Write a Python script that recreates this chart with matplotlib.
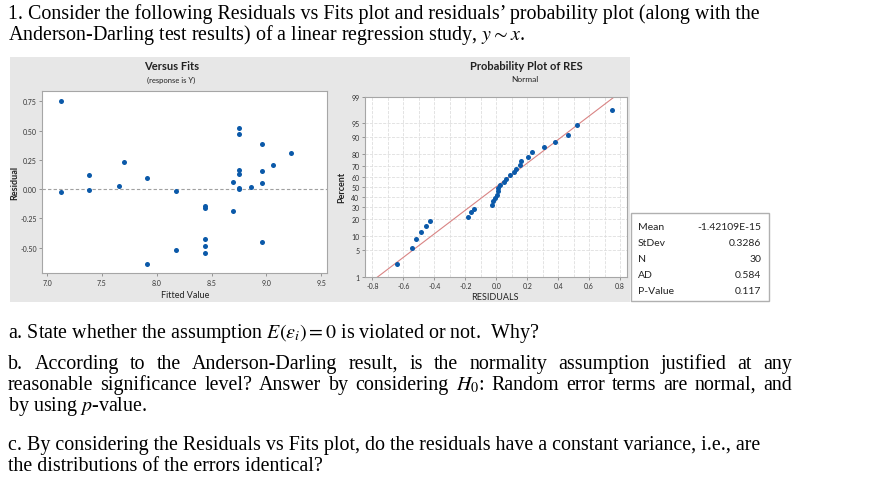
import matplotlib
matplotlib.use('Agg')
import matplotlib.pyplot as plt  # for plotting
import matplotlib.patches as pch  # for the grey panel and the stats box
import numpy as np
from statistics import NormalDist

# residuals vs fits
fits = [7.128, 7.128, 7.387, 7.387, 7.654, 7.703, 7.916, 7.916, 8.175, 8.175,
        8.44, 8.44, 8.44, 8.44, 8.44, 8.699, 8.699, 8.747, 8.747, 8.747,
        8.747, 8.747, 8.747, 8.857, 8.96, 8.96, 8.96, 8.96, 9.06, 9.22]
resid = [0.75, -0.026, 0.116, -0.006, 0.023, 0.233, 0.091, -0.639, -0.02, -0.517,
         -0.145, -0.162, -0.429, -0.483, -0.543, 0.063, -0.185, 0.52, 0.466, 0.159,
         0.128, 0.009, 0.004, 0.014, 0.381, 0.151, 0.051, -0.455, 0.205, 0.31]

# Anderson-Darling output
stat_names = ['Mean', 'StDev', 'N', 'AD', 'P-Value']
stat_values = ['-1.42109E-15', '0.3286', '30', '0.584', '0.117']
res_mean = -1.42109e-15
res_sd = 0.3286

fit_ticks = [7.0, 7.5, 8.0, 8.5, 9.0, 9.5]
res_ticks = [-0.50, -0.25, 0.00, 0.25, 0.50, 0.75]
pct_ticks = [1, 5, 10, 20, 30, 40, 50, 60, 70, 80, 90, 95, 99]
prob_xticks = [-0.8, -0.6, -0.4, -0.2, 0.0, 0.2, 0.4, 0.6, 0.8]

W, H = 896, 485
SANS = 'Lato'
SERIF = 'Liberation Serif'
plt.rcParams['mathtext.fontset'] = 'stix'


def box(x0, y0, x1, y1):
    # pixel box (top-left origin) -> figure fraction rect
    return [x0 / W, 1 - y1 / H, (x1 - x0) / W, (y1 - y0) / H]


def ftext(x, y, s, **kw):
    return fig.text(x / W, 1 - y / H, s, **kw)


fig = plt.figure(figsize=(W / 100, H / 100), dpi=100)

# grey minitab panel behind both plots
fig.patches.append(pch.Rectangle((10 / W, 1 - 303 / H), 620 / W, 245 / H,
                                 transform=fig.transFigure, facecolor='#e7e7e7',
                                 edgecolor='none', zorder=-1))

dot = '#0b59a9'
frame = '#a6a6a6'

# ---- Versus Fits
ax1 = fig.add_axes(box(42.3, 92.3, 326.7, 274.3))
ax1.scatter(fits, resid, s=13, color=dot, linewidths=0, zorder=3)
ax1.axhline(0, color='#a0a0a0', ls='--', lw=0.8, dashes=(3, 2))
ax1.set_xlim(6.957, 9.55)
ax1.set_ylim(-0.72, 0.835)
ax1.set_xticks(fit_ticks)
ax1.set_xticklabels(['%.1f' % v for v in fit_ticks])
ax1.set_yticks(res_ticks)
ax1.set_yticklabels(['%.2f' % v for v in res_ticks])

# ---- Probability plot
inv = NormalDist().inv_cdf
srt = np.sort(resid)
n = len(srt)
pp = [(i - 0.3) / (n + 0.4) for i in range(1, n + 1)]
zq = [inv(p) for p in pp]

ax2 = fig.add_axes(box(365, 97.7, 626.7, 277.7))
ax2.set_xlim(-0.848, 0.843)
ax2.set_ylim(inv(0.01), inv(0.99))
xs = np.array([-0.9, 0.9])
ax2.plot(xs, (xs - res_mean) / res_sd, color='#d98484', lw=0.8, zorder=2)
ax2.scatter(srt, zq, s=13, color=dot, linewidths=0, zorder=3)
ax2.set_xticks(prob_xticks)
ax2.set_xticklabels(['%.1f' % v for v in prob_xticks])
ax2.set_xticks(np.arange(-0.8, 0.81, 0.1), minor=True)
ax2.set_yticks([inv(p / 100) for p in pct_ticks])
ax2.set_yticklabels([str(p) for p in pct_ticks])
ax2.grid(True, which='both', axis='x', ls='--', color='#dedede', lw=0.6)
ax2.grid(True, which='major', axis='y', ls='--', color='#dedede', lw=0.6)
ax2.tick_params(which='minor', length=0)
ax2.set_axisbelow(True)

for ax in (ax1, ax2):
    for sp in ax.spines.values():
        sp.set_color(frame)
        sp.set_linewidth(0.8)
    ax.tick_params(which='major', labelsize=5, length=2, width=0.6, color='#888888',
                   labelcolor='#333333', pad=2)
    for lab in ax.get_xticklabels() + ax.get_yticklabels():
        lab.set_family(SANS)

# titles and axis labels
ftext(172, 67, 'Versus Fits', family=SANS, size=8, weight='bold', color='#222222',
      ha='center', va='center')
ftext(171, 80, '(response is Y)', family=SANS, size=5.5, color='#222222',
      ha='center', va='center')
ftext(526, 67, 'Probability Plot of RES', family=SANS, size=8, weight='bold',
      color='#222222', ha='center', va='center')
ftext(525, 79, 'Normal', family=SANS, size=6, color='#222222', ha='center', va='center')
ftext(185, 296, 'Fitted Value', family=SANS, size=6.5, color='#222222',
      ha='center', va='center')
ftext(15, 183, 'Residual', family=SANS, size=6.5, weight='bold', color='#222222',
      ha='center', va='center', rotation=90)
ftext(342, 187, 'Percent', family=SANS, size=6.5, weight='bold', color='#222222',
      ha='center', va='center', rotation=90)
ftext(495, 298, 'RESIDUALS', family=SANS, size=6.5, color='#222222',
      ha='center', va='center')

# stats box
fig.patches.append(pch.Rectangle((631 / W, 1 - 302 / H), 138 / W, 88 / H,
                                 transform=fig.transFigure, facecolor='white',
                                 edgecolor='#b0b0b0', lw=1, zorder=1))
for k, (name, val) in enumerate(zip(stat_names, stat_values)):
    yy = 227 + k * 16.2
    ftext(638, yy, name, family=SANS, size=7.5, color='#222222', va='center')
    ftext(761, yy, val, family=SANS, size=7.5, color='#222222', va='center', ha='right')

# question text
qkw = dict(family=SERIF, size=14.4, color='black', va='baseline')


def justify(words, y, x0, x1):
    r = fig.canvas.get_renderer()
    ts = [ftext(0, y, w, **qkw) for w in words]
    ws = [t.get_window_extent(r).width for t in ts]
    gap = (x1 - x0 - sum(ws)) / (len(words) - 1)
    x = x0
    for t, w in zip(ts, ws):
        t.set_x(x / W)
        x += w + gap


ftext(8, 19, '1. Consider the following Residuals vs Fits plot and residuals\u2019 '
      'probability plot (along with the', **qkw)
ftext(8, 40, 'Anderson-Darling test results) of a linear regression study, $y \\sim x$.',
      **qkw)
ftext(8, 338, 'a. State whether the assumption $E(\\varepsilon_i) = 0$ is violated or not.  Why?',
      **qkw)
justify('b. According to the Anderson-Darling result, is the normality assumption '
        'justified at any'.split(), 369, 8, 792)
justify('reasonable significance level? Answer by considering $H_0$: Random error '
        'terms are normal, and'.split(), 390, 8, 792)
ftext(8, 411, 'by using $p$-value.', **qkw)
ftext(8, 450, 'c. By considering the Residuals vs Fits plot, do the residuals have a '
      'constant variance, i.e., are', **qkw)
ftext(8, 471, 'the distributions of the errors identical?', **qkw)

fig.savefig('out.png', dpi=100)
